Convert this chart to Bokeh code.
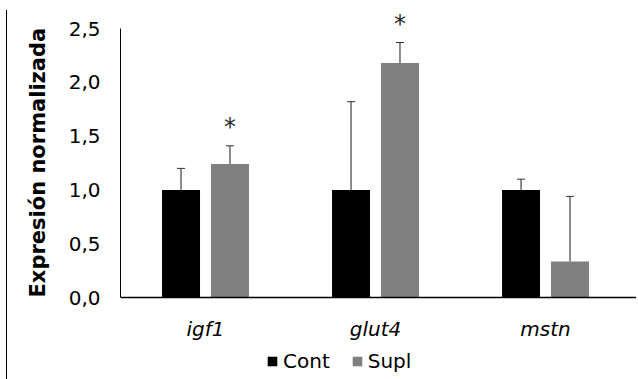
from bokeh.plotting import figure
from bokeh.models import (ColumnDataSource, Range1d, FixedTicker, Whisker, TeeHead,
                          LabelSet, Legend, LegendItem, Span, Title)
from bokeh.core.properties import value
from bokeh.transform import dodge
from bokeh.embed import file_html
from bokeh.resources import INLINE

# ---- data ----
genes = ["igf1", "glut4", "mstn"]
cont = [1.0, 1.0, 1.0]
cont_err = [0.20, 0.82, 0.10]
supl = [1.24, 2.18, 0.335]
supl_err = [0.17, 0.19, 0.605]
supl_sig = ["*", "*", ""]
y_ticks = [0.0, 0.5, 1.0, 1.5, 2.0, 2.5]
y_tick_labels = ["0,0", "0,5", "1,0", "1,5", "2,0", "2,5"]
y_title = "Expresión normalizada"

FONT = "DejaVu Sans"
OFF = 0.144
BW = 0.2235

xs = list(range(len(genes)))
src = ColumnDataSource(dict(
    x=xs,
    zero=[0.0] * len(xs),
    gene=genes,
    cont=cont,
    cont_top=[v + e for v, e in zip(cont, cont_err)],
    supl=supl,
    supl_top=[v + e for v, e in zip(supl, supl_err)],
    sig=supl_sig,
))

p = figure(width=630, height=369, output_backend="svg", toolbar_location=None,
           x_range=Range1d(-0.5, 2.541), y_range=Range1d(-0.762, 2.649),
           x_axis_location=None,
           min_border_left=110, min_border_right=0, min_border_top=2,
           min_border_bottom=0)
p.margin = (10, 0, 0, 6)
p.styles = {"border-left": "1px solid black"}
p.outline_line_color = None
p.xgrid.visible = False
p.ygrid.visible = False

r_cont = p.vbar(x=dodge("x", -OFF), top="cont", width=BW, source=src,
                fill_color="#000000", line_color=None)
r_supl = p.vbar(x=dodge("x", OFF), top="supl", width=BW, source=src,
                fill_color="#808080", line_color=None)

for col_x, low, up in [(-OFF, "cont", "cont_top"), (OFF, "supl", "supl_top")]:
    w = Whisker(base=dodge("x", col_x), lower=low, upper=up, source=src,
                dimension="height", line_color="#1a1a1a", line_width=1,
                upper_head=TeeHead(size=8, line_color="#333333", line_width=1),
                lower_head=None)
    p.add_layout(w)

stars = LabelSet(x=dodge("x", OFF), y="supl_top", text="sig", source=src,
                 text_font=value(FONT), text_font_size=value("24px"),
                 text_color="#2a2a2a", text_align="center",
                 text_baseline="middle", y_offset=19)
p.add_layout(stars)

# x baseline (category axis line) and category labels
p.add_layout(Span(location=y_ticks[0], dimension="width", line_color="#000000",
                  line_width=1.5))
cats = LabelSet(x="x", y="zero", text="gene", source=src, text_font=value(FONT),
                text_font_size=value("20px"), text_font_style="italic",
                text_color="#000000", text_align="center",
                text_baseline="middle", y_offset=-31)
p.add_layout(cats)

# y axis
p.yaxis.ticker = FixedTicker(ticks=y_ticks)
p.yaxis.major_label_overrides = {t: l for t, l in zip(y_ticks, y_tick_labels)}
p.yaxis.bounds = (y_ticks[0], y_ticks[-1])
p.yaxis.major_tick_line_color = None
p.yaxis.major_tick_out = 0
p.yaxis.major_tick_in = 0
p.yaxis.minor_tick_line_color = None
p.yaxis.major_label_standoff = 20
p.yaxis.major_label_text_font = FONT
p.yaxis.major_label_text_font_size = "20px"
p.yaxis.major_label_text_color = "#000000"
p.yaxis.axis_line_color = "#000000"

ytitle = Title(text=y_title, align="left", offset=82, standoff=32,
               text_font=FONT, text_font_style="bold", text_font_size="21px",
               text_color="#000000")
p.add_layout(ytitle, "left")

legend = Legend(items=[LegendItem(label="Cont", renderers=[r_cont]),
                       LegendItem(label="Supl", renderers=[r_supl])],
                orientation="horizontal", location=(146, 6),
                glyph_width=12, glyph_height=12, label_standoff=5, spacing=21,
                label_height=20, padding=0, margin=0, border_line_color=None,
                background_fill_alpha=0, label_text_font=FONT,
                label_text_font_size="20px", label_text_color="#000000")
p.add_layout(legend, "center")

open("out.html", "w").write(file_html(p, INLINE))
